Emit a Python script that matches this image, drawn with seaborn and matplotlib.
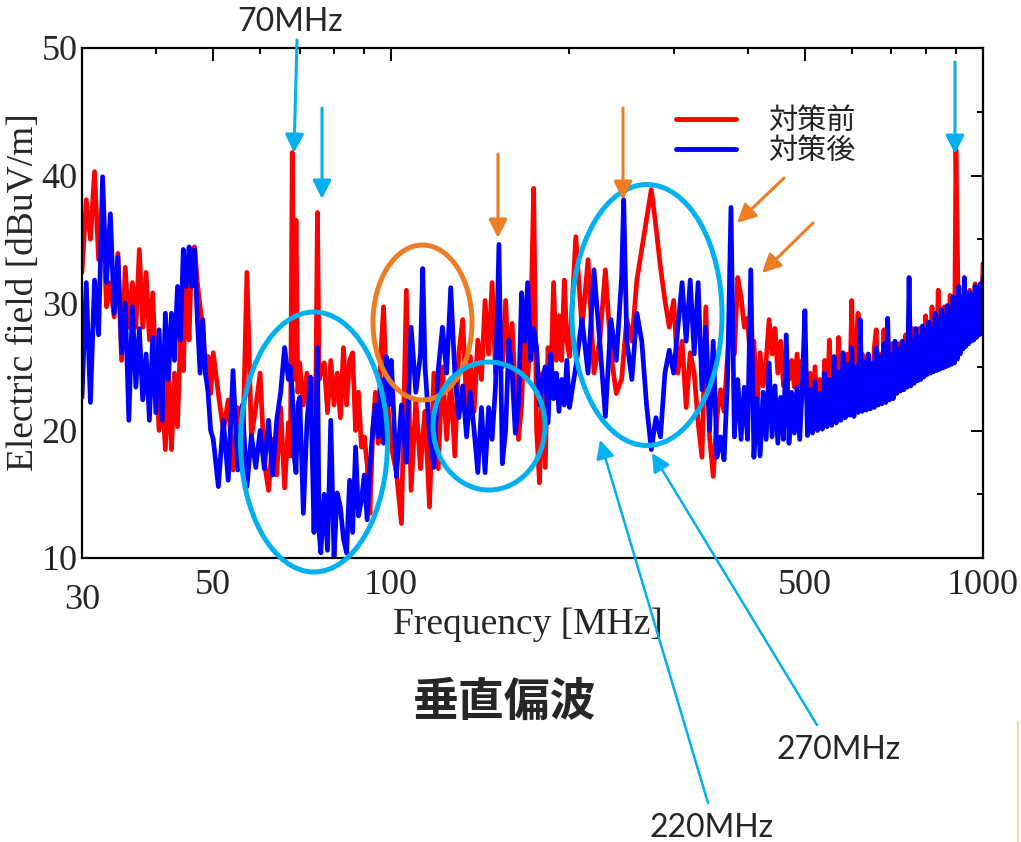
import numpy as np
import pandas as pd
import matplotlib
matplotlib.use("Agg")
import matplotlib.pyplot as plt
import seaborn as sns
from matplotlib.patches import Ellipse, FancyArrowPatch
from matplotlib.lines import Line2D
import matplotlib.ticker as mticker

# ---------------- data ----------------
freq_a = [30.0, 30.5, 31.0, 31.5, 32.0, 32.5, 33.0, 33.5, 34.0, 34.5,
          35.0, 35.5, 36.0, 36.5, 37.0, 37.5, 38.0, 38.5, 39.0, 39.5,
          40.0, 40.5, 41.0, 41.5, 42.0, 42.5, 43.0, 43.5, 44.0, 44.5,
          45.0, 45.5, 46.0, 46.5, 47.0, 47.5, 48.0, 48.5, 49.0, 49.5]
before_a = [32.4, 38.1, 35.0, 40.3, 33.4, 37.8, 29.7, 31.6, 28.9, 33.9,
            25.5, 32.8, 28.1, 31.6, 28.1, 34.2, 28.1, 32.4, 27.1, 30.8,
            24.5, 20.0, 22.9, 18.5, 24.5, 18.5, 24.5, 20.3, 27.1, 24.7,
            31.8, 27.1, 34.2, 34.4, 31.6, 29.7, 28.1, 24.5, 25.8, 22.9]
after_a = [22.6, 31.6, 22.2, 31.8, 27.5, 39.9, 31.6, 37.0, 29.2, 33.6,
           26.1, 30.0, 20.8, 29.7, 23.4, 28.0, 22.4, 26.0, 20.8, 27.3,
           21.4, 27.9, 20.8, 29.2, 24.0, 29.2, 25.5, 31.3, 27.1, 34.2,
           31.3, 34.4, 31.3, 34.2, 28.7, 24.5, 28.7, 24.5, 23.0, 20.0]

freq_b = [50, 51, 52, 53, 54, 55, 56, 57, 58, 59, 60, 61, 62, 63, 64, 65, 66, 67,
          67.5, 68, 68.5, 69, 69.5, 70, 71, 72, 73, 74, 74.5, 75, 75.5,
          76, 77, 78, 79, 80, 81, 82, 83, 84, 85, 86, 87, 88, 89, 90, 91, 92,
          93, 94, 95, 96, 97, 98, 99]
before_b = [26.1, 22.9, 20.0, 22.4, 16.9, 21.8, 17.5, 32.4, 19.5, 21.8, 24.5, 17.5,
            15.3, 19.3, 16.5, 21.8, 15.5, 20.6,
            18.0, 41.8, 24.0, 36.5, 23.0, 25.3, 22.0, 24.5, 21.0, 24.0, 22.0, 37.1, 24.0,
            24.5, 25.3, 21.4, 25.5, 22.0, 24.5, 21.0, 26.5, 22.0, 25.5, 26.1, 20.0, 23.0,
            18.7, 19.5, 17.4, 13.5, 20.0, 23.0, 19.0, 26.0, 29.7, 24.0, 21.0]
after_b = [19.3, 15.6, 20.8, 16.1, 24.7, 16.9, 22.0, 15.6, 19.6, 17.1, 20.0, 17.0,
           20.8, 16.5, 20.8, 23.0, 26.5, 24.0,
           25.0, 23.0, 18.0, 16.7, 22.0, 22.6, 13.5, 20.5, 24.2, 12.0, 19.0, 26.5, 12.0,
           10.4, 15.0, 10.6, 20.8, 10.1, 15.1, 14.0, 11.5, 10.4, 16.1, 12.0, 18.7, 13.3,
           14.5, 16.5, 13.0, 17.0, 20.0, 22.0, 19.5, 24.0, 19.0, 25.8, 22.0]

freq_c = [100, 102, 104, 106, 108, 110, 112, 113, 114, 116, 118, 120, 122, 124, 126,
          128, 130, 132, 134, 136, 138, 140, 142, 144, 146, 148, 150, 152, 154, 156,
          158, 160, 162, 164, 166, 168, 170, 172, 174, 176, 178, 180, 182, 184, 186,
          188, 190, 192, 194, 196, 198]
before_c = [18.7, 16.7, 12.7, 31.0, 15.3, 22.4, 17.0, 19.5, 21.5, 14.0, 24.5, 17.0,
            25.0, 19.3, 24.0, 18.0, 26.0, 28.7, 22.0, 25.8, 21.5, 27.1, 24.0, 30.2,
            26.0, 31.6, 24.5, 29.0, 25.0, 30.2, 24.5, 28.4, 23.0, 19.3, 22.0, 28.4,
            24.0, 28.0, 39.0, 20.0, 15.9, 24.5, 17.1, 26.5, 24.0, 31.6, 25.5, 29.0,
            25.5, 31.8, 27.0]
after_c = [25.5, 16.4, 22.0, 17.5, 28.1, 23.0, 26.0, 32.7, 25.0, 19.8, 17.1, 24.7,
           28.1, 24.5, 31.2, 24.5, 21.0, 23.5, 19.5, 23.0, 20.0, 16.7, 21.8, 16.7,
           21.8, 19.3, 23.5, 34.6, 17.4, 20.0, 27.1, 24.5, 19.8, 22.0, 30.8, 27.0,
           31.6, 25.5, 28.0, 26.5, 22.0, 24.0, 25.0, 20.6, 26.0, 22.5, 24.5, 21.5,
           24.0, 22.0, 25.5]

freq_d = [200, 205, 210, 215, 220, 225, 230, 235, 240, 245, 247,
          250, 255, 260, 265, 270, 275, 280, 285, 290, 295,
          300, 305, 310, 315, 320, 325, 330, 335, 340, 345,
          350, 355, 360, 365, 370, 375, 380, 385, 390, 395,
          400, 405, 410, 415, 420, 425, 430, 435, 440, 445,
          450, 455, 460, 465, 470, 475, 480, 485, 490, 495]
before_d = [25.8, 35.2, 28.0, 33.4, 24.5, 27.0, 32.6, 26.0, 22.9, 24.0, 26.0,
            28.7, 27.0, 31.8, 34.2, 36.5, 38.9, 36.0, 32.8, 30.2, 28.1,
            30.2, 24.5, 27.0, 21.8, 26.1, 24.5, 20.6, 17.9, 29.7, 19.5,
            16.4, 21.0, 23.2, 21.5, 25.8, 29.2, 26.0, 32.0, 30.5, 28.1,
            28.8, 25.0, 27.0, 21.8, 26.1, 23.5, 25.5, 28.7, 26.0, 28.0,
            24.5, 27.0, 23.5, 26.0, 24.0, 25.5, 23.4, 26.0, 23.5, 25.5]
after_d = [21.8, 25.0, 28.7, 24.5, 32.6, 27.0, 21.1, 28.7, 25.5, 32.0, 38.1,
           27.0, 24.0, 29.2, 27.0, 22.0, 18.5, 21.0, 19.5, 24.5, 26.3,
           24.5, 28.1, 31.6, 27.0, 31.8, 26.0, 31.6, 23.2, 28.1, 20.0,
           27.0, 17.9, 19.5, 17.7, 24.0, 37.5, 19.5, 24.0, 19.3, 23.4,
           19.3, 32.6, 17.9, 22.5, 18.0, 23.0, 19.3, 25.3, 19.5, 23.5,
           19.0, 22.6, 19.3, 27.5, 19.0, 23.0, 19.8, 23.4, 19.3, 23.5]

freq_e = [500, 505, 510, 515, 520, 525, 530, 535, 540, 545,
          550, 555, 560, 565, 570, 575, 580, 585, 590, 595,
          600, 605, 610, 615, 620, 625, 630, 635, 640, 645,
          650, 655, 660, 665, 670, 675, 680, 685, 690, 695,
          700, 705, 710, 715, 720, 725, 730, 735, 740, 745,
          750, 755, 760, 765, 770, 775, 780, 785, 790, 795,
          800, 805, 810, 815, 820, 825, 830, 835, 840, 845,
          850, 855, 860, 865, 870, 875, 880, 885, 890, 895,
          900, 905, 910, 915, 920, 925, 930, 935, 940, 945,
          950, 955, 960, 965, 970, 975, 980, 985, 990, 995,
          1000]
before_e = [24.0, 22.0, 24.5, 21.0, 25.0, 21.2, 24.0, 21.0, 25.5, 21.2,
            27.1, 21.5, 25.5, 21.5, 27.3, 22.0, 25.5, 22.0, 26.0, 22.0,
            30.2, 22.2, 26.5, 29.2, 22.3, 26.0, 22.3, 25.8, 22.5, 25.0,
            22.5, 26.5, 27.9, 22.6, 26.0, 22.7, 27.9, 23.0, 26.0, 23.0,
            26.8, 23.1, 26.0, 23.2, 26.8, 23.4, 26.2, 23.6, 27.5, 23.8,
            26.8, 24.0, 28.0, 24.1, 27.2, 24.2, 28.0, 24.3, 27.5, 24.4,
            29.0, 24.5, 28.0, 24.6, 29.7, 24.7, 28.5, 24.8, 31.0, 24.9,
            28.8, 25.0, 29.7, 25.2, 29.0, 25.4, 30.6, 25.6, 29.5, 25.8,
            42.0, 34.2, 27.0, 26.2, 30.5, 26.5, 30.9, 26.8, 30.2, 27.0,
            31.0, 27.2, 30.5, 27.3, 31.5, 27.5, 31.0, 27.6, 31.5, 27.8,
            33.1]
after_e = [29.4, 19.6, 23.2, 19.8, 23.8, 20.0, 22.9, 20.1, 24.5, 20.3,
           24.0, 20.4, 25.8, 20.6, 24.6, 20.8, 26.1, 21.0, 25.2, 21.2,
           26.5, 21.1, 25.0, 21.4, 28.7, 21.5, 25.4, 21.6, 26.0, 21.7,
           25.3, 21.8, 26.5, 22.0, 25.8, 22.1, 26.8, 22.2, 28.8, 22.4,
           26.0, 22.5, 27.0, 22.9, 26.4, 23.1, 27.0, 23.2, 26.6, 23.4,
           32.0, 23.5, 27.1, 23.7, 28.0, 23.9, 27.4, 24.0, 28.2, 24.2,
           27.9, 24.4, 28.5, 24.5, 28.0, 24.6, 29.2, 24.7, 28.6, 24.8,
           29.5, 24.9, 29.0, 25.0, 29.8, 25.1, 29.3, 25.2, 30.5, 25.3,
           29.8, 25.6, 31.3, 26.0, 30.2, 26.4, 32.0, 26.6, 30.4, 26.8,
           30.8, 27.0, 30.6, 27.1, 31.3, 27.3, 31.0, 27.5, 31.5, 27.6,
           32.0]

series_names = ["対策前", "対策後"]
series_colors = ["#FF0000", "#0000FF"]
x_major_ticks = [30, 50, 100, 500, 1000]
x_major_labels = ["", "50", "100", "500", "1000"]
x_minor_ticks = [40, 60, 70, 80, 90, 200, 300, 400, 600, 700, 800, 900]
y_major_ticks = [10, 20, 30, 40, 50]
y_minor_ticks = [15, 25, 35, 45]

# ---------------- build table ----------------
freq = np.concatenate([freq_a, freq_b, freq_c, freq_d, freq_e]).astype(float)
before = np.concatenate([before_a, before_b, before_c, before_d, before_e])
after = np.concatenate([after_a, after_b, after_c, after_d, after_e])
assert len(freq) == len(before) == len(after)
n = len(freq)
df = pd.DataFrame({
    "freq": np.concatenate([freq, freq]),
    "level": np.concatenate([before, after]),
    "state": [series_names[0]] * n + [series_names[1]] * n,
})

# ---------------- style ----------------
sns.set_style("white")
plt.rcParams["font.family"] = ["Liberation Serif", "Noto Sans CJK JP", "DejaVu Sans"]

W, H = 1021, 842
fig = plt.figure(figsize=(W / 100, H / 100), dpi=100)
ax = fig.add_axes([82 / W, 1 - 558 / H, 901 / W, 510 / H])

sns.lineplot(data=df, x="freq", y="level", hue="state", hue_order=series_names,
             palette=dict(zip(series_names, series_colors)), linewidth=3.4,
             estimator=None, sort=False, legend=False, ax=ax,
             solid_joinstyle="round", solid_capstyle="round")

ax.set_xscale("log")
ax.set_xlim(30, 1000)
ax.set_ylim(10, 50)
ax.xaxis.set_major_locator(mticker.FixedLocator(x_major_ticks))
ax.xaxis.set_major_formatter(mticker.FixedFormatter(x_major_labels))
ax.xaxis.set_minor_locator(mticker.FixedLocator(x_minor_ticks))
ax.xaxis.set_minor_formatter(mticker.NullFormatter())
ax.yaxis.set_major_locator(mticker.FixedLocator(y_major_ticks))
ax.yaxis.set_minor_locator(mticker.FixedLocator(y_minor_ticks))

for s in ax.spines.values():
    s.set_linewidth(1.6)
    s.set_color("black")
ax.tick_params(which="both", direction="in", top=True, right=True, width=1.4, color="black")
ax.tick_params(which="major", length=9, labelsize=26, pad=8)
ax.tick_params(which="minor", length=4.5)
ax.tick_params(axis="y", which="major", pad=3)

ax.annotate("30", xy=(30, 0), xycoords=("data", "axes fraction"), xytext=(0, -19),
            textcoords="offset points", ha="center", va="top", fontsize=26)

ax.set_xlabel("Frequency [MHz]", fontsize=27)
ax.xaxis.set_label_coords((528 - 82) / 901, (558 - 608) / 510)
ax.set_ylabel("Electric field [dBuV/m]", fontsize=27)
ax.yaxis.set_label_coords((41 - 82) / 901, (558 - 292) / 510)

# legend
handles = [Line2D([], [], color=c, lw=3.5) for c in series_colors]
leg = ax.legend(handles, series_names, loc="upper left", frameon=False,
                bbox_to_anchor=(676 / W, 1 - 106 / H), bbox_transform=fig.transFigure,
                borderpad=0, borderaxespad=0, handlelength=2.05, handletextpad=1.1,
                labelspacing=0.0, prop={"family": "Noto Sans CJK JP", "size": 21})
for t in leg.get_texts():
    t.set_color("#222222")

# ---------------- annotations (figure pixel layout) ----------------
def fp(x, y):
    return (x / W, 1 - y / H)

LB = "#00B0F0"
OR = "#ED7D22"

def arrow(p0, p1, color, lw=2.2):
    a = FancyArrowPatch(fp(*p0), fp(*p1), transform=fig.transFigure,
                        arrowstyle="-|>,head_length=0.8,head_width=0.4",
                        mutation_scale=14, lw=lw, color=color,
                        shrinkA=0, shrinkB=0, zorder=5)
    fig.add_artist(a)

arrow((297, 40), (294, 153), LB)
arrow((322, 108), (322, 199), LB)
arrow((955, 62), (955, 154), LB)
arrow((498, 154), (498, 238), OR)
arrow((623, 108), (623, 200), OR)
arrow((784, 178), (737, 223), OR)
arrow((813, 223), (762, 273), OR)
arrow((708, 803), (600, 440), LB, lw=1.8)
arrow((817, 725), (652, 453), LB, lw=1.8)

def ellipse(cx, cy, w, h, color):
    e = Ellipse(fp(cx, cy), w / W, h / H, transform=fig.transFigure, fill=False,
                edgecolor=color, lw=3.6, zorder=4)
    fig.add_artist(e)

ellipse(314, 442, 147, 260, LB)
ellipse(422.5, 322.5, 99, 155, OR)
ellipse(489, 426, 112, 128, LB)
ellipse(647, 315, 150, 261, LB)

fig.text(*fp(290, 22), "70MHz", ha="center", va="center", family="Lato", fontsize=23)
fig.text(*fp(839, 750), "270MHz", ha="center", va="center", family="Lato", fontsize=23)
fig.text(*fp(711, 828), "220MHz", ha="center", va="center", family="Lato", fontsize=23)
fig.text(*fp(505, 703), "垂直偏波", ha="center", va="center", family="Noto Sans CJK JP",
         fontsize=33, fontweight="bold")

fig.add_artist(Line2D([1018 / W, 1018 / W], [1 - 722 / H, 0], transform=fig.transFigure,
                      color="#EED8A8", lw=1.5))

fig.savefig("out.png", dpi=100)
